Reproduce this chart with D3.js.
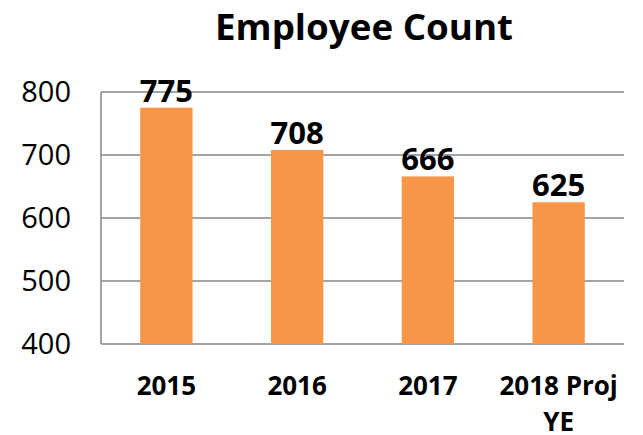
<!DOCTYPE html>
<html>
<head>
<meta charset="utf-8">
<script src="https://cdn.jsdelivr.net/npm/d3@7"></script>
<style>
  body { margin: 0; background: #fff; }
  svg { display: block; }
</style>
</head>
<body>
<div id="chart"></div>
<script>
// Chart data
const categories = ['2015', '2016', '2017', '2018 Proj YE'];
const employees = [775, 708, 666, 625];
const yTicks = [400, 500, 600, 700, 800];
const chartTitle = 'Employee Count';

const width = 643, height = 435;
const margin = { top: 92, right: 19, bottom: 91, left: 101 };

const svg = d3.select('#chart').append('svg')
  .attr('width', width)
  .attr('height', height);

const x = d3.scaleBand()
  .domain(categories)
  .range([margin.left, width - margin.right])
  .paddingInner(0.6)
  .paddingOuter(0.3);

const y = d3.scaleLinear()
  .domain([400, 800])
  .range([height - margin.bottom, margin.top]);

const font = '"Open Sans", sans-serif';

// Title
svg.append('text')
  .attr('x', 364)
  .attr('y', 40)
  .attr('text-anchor', 'middle')
  .attr('font-family', font)
  .attr('font-weight', 'bold')
  .attr('font-size', 36)
  .attr('textLength', 298)
  .attr('lengthAdjust', 'spacingAndGlyphs')
  .attr('fill', '#000')
  .text(chartTitle);

// Gridlines
svg.append('g')
  .selectAll('line')
  .data(yTicks)
  .join('line')
  .attr('x1', margin.left)
  .attr('x2', width - margin.right)
  .attr('y1', d => y(d))
  .attr('y2', d => y(d))
  .attr('stroke', '#868686')
  .attr('stroke-width', 1.5);

// Left axis line
svg.append('line')
  .attr('x1', margin.left)
  .attr('x2', margin.left)
  .attr('y1', y(800))
  .attr('y2', y(400))
  .attr('stroke', '#868686')
  .attr('stroke-width', 1.5);

// Y tick labels
svg.append('g')
  .selectAll('text')
  .data(yTicks)
  .join('text')
  .attr('x', 71)
  .attr('y', d => y(d) + 10)
  .attr('text-anchor', 'end')
  .attr('font-family', font)
  .attr('font-size', 29)
  .attr('fill', '#000')
  .text(d => d);

// Bars
svg.append('g')
  .selectAll('rect')
  .data(employees)
  .join('rect')
  .attr('x', (d, i) => x(categories[i]))
  .attr('y', d => y(d))
  .attr('width', x.bandwidth())
  .attr('height', d => y(400) - y(d))
  .attr('fill', '#F79646');

// Value labels
svg.append('g')
  .selectAll('text')
  .data(employees)
  .join('text')
  .attr('x', (d, i) => x(categories[i]) + x.bandwidth() / 2)
  .attr('y', d => y(d) - 6)
  .attr('text-anchor', 'middle')
  .attr('font-family', font)
  .attr('font-weight', 'bold')
  .attr('font-size', 31)
  .attr('fill', '#000')
  .text(d => d);

// Category labels (wrap "2018 Proj YE")
const catLabels = svg.append('g')
  .selectAll('text')
  .data(categories)
  .join('text')
  .attr('x', d => x(d) + x.bandwidth() / 2)
  .attr('y', 395)
  .attr('text-anchor', 'middle')
  .attr('font-family', font)
  .attr('font-weight', 'bold')
  .attr('font-size', 26)
  .attr('fill', '#000');

catLabels.each(function (d) {
  const lines = d === '2018 Proj YE' ? ['2018 Proj', 'YE'] : [d];
  const t = d3.select(this);
  lines.forEach((line, i) => {
    t.append('tspan')
      .attr('x', x(d) + x.bandwidth() / 2)
      .attr('dy', i === 0 ? 0 : 36)
      .text(line);
  });
});
</script>
</body>
</html>
